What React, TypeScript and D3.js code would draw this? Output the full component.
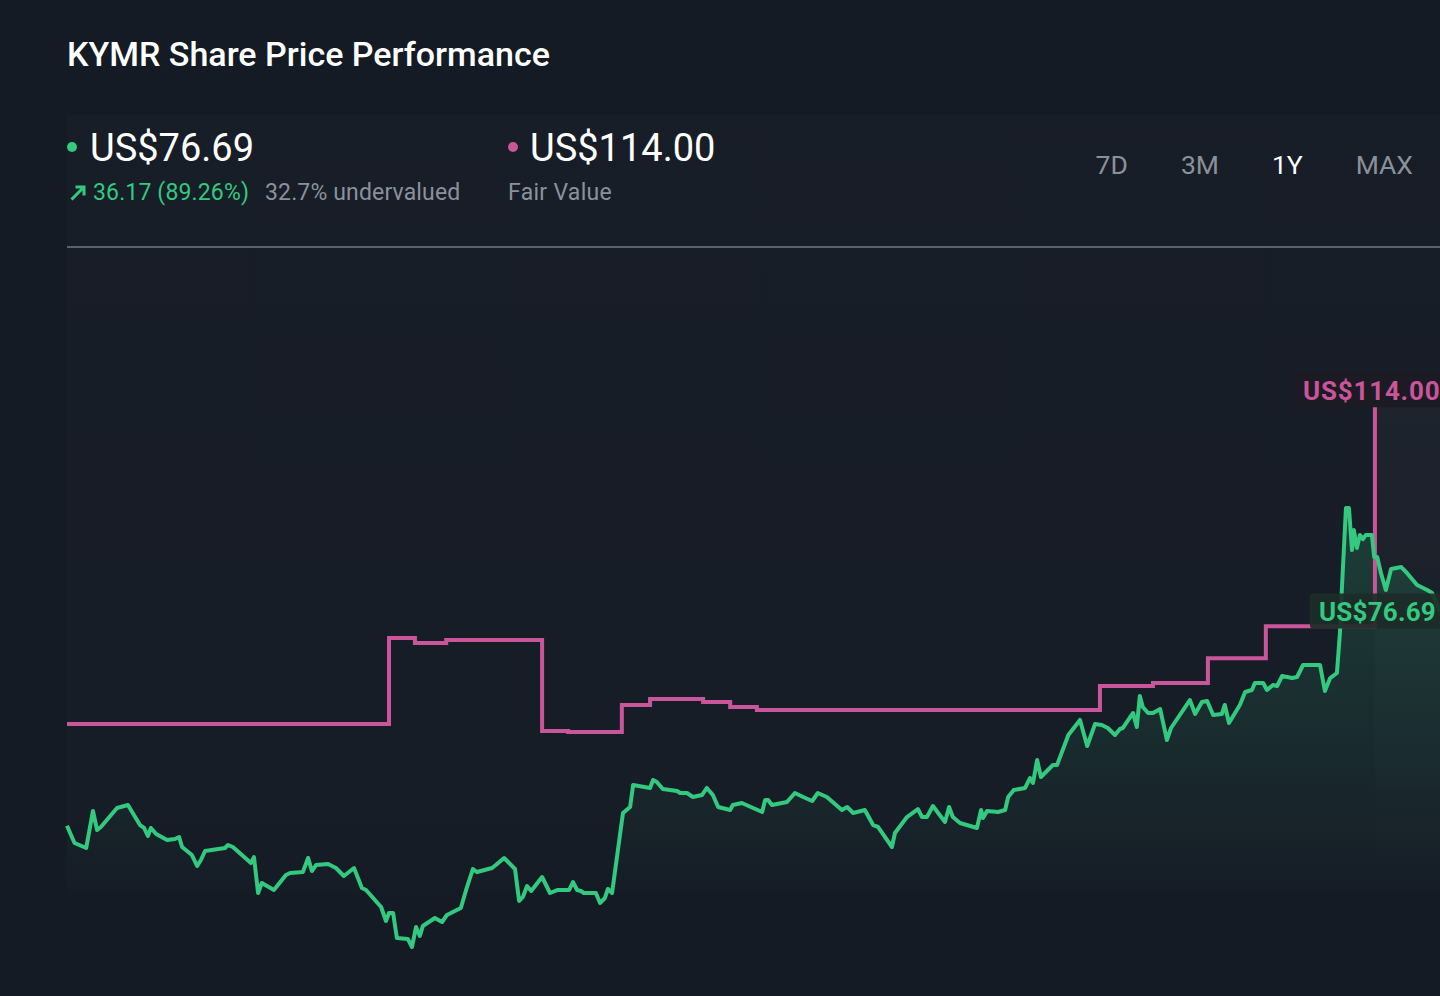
import { useRef, useEffect } from "react";
import * as d3 from "d3";

// days since the start of the 1Y window, and closing price (US$)
const priceDays = [
  0, 2, 5.1, 6.9, 8, 9, 13.3, 16.2, 19.4, 20.5, 21.5, 22.3, 23.7, 26.6, 28.7, 29.8, 30.6, 33.2, 34.6, 35.6,
  36.7, 42, 42.8, 44.1, 48.9, 49.7, 50.8, 51.8, 55, 58.2, 59.3, 62.7, 64.1, 65.1, 66.2, 69.4, 71.5, 73.6, 76.3, 78.4,
  79.5, 83.5, 84.8, 85.6, 86.7, 87.7, 90.6, 91.7, 92.8, 93.8, 94.6, 97.8, 99.7, 101, 104.7, 106.1, 107.9, 109, 113, 114,
  116.2, 119.1, 120.2, 121.2, 122.3, 123.4, 126.3, 128.4, 130.5, 133.5, 134.5, 135.6, 136.6, 137.4, 140.6, 141.7, 143, 143.8, 144.9, 147.8,
  149.7, 150.5, 155, 155.8, 156.8, 158.4, 162.2, 163, 164.8, 166.4, 168.8, 170.1, 171.7, 173.1, 176.3, 177, 179.4, 184.8, 185.6, 186.4,
  187.4, 191.4, 193.5, 195.7, 198.1, 199.6, 202, 206, 207.4, 209, 212.1, 214.3, 215.6, 219.3, 220.1, 223.3, 226.2, 227.3, 228.6, 230.2,
  233.4, 234.5, 235.5, 237.4, 241.9, 243, 243.5, 244.6, 247.5, 249.4, 250.2, 251.7, 254.7, 256, 256.8, 257.9, 258.9, 262.1, 263.2, 264.8,
  266.2, 269.3, 271.2, 273.3, 275.1, 276.7, 278.6, 279.9, 280.7, 283.4, 284.4, 285.2, 286, 287.4, 288.7, 290.6, 292.4, 293.5, 298.5, 299.9,
  301.7, 303.1, 304.7, 307, 307.8, 308.9, 311.8, 313.2, 315, 315.8, 318, 319, 320.6, 321.7, 323, 325.7, 327, 328.6, 333.1, 334.4,
  335.8, 337.6, 338.4, 338.9, 340, 340.8, 341.6, 342.1, 342.9, 343.7, 344.5, 345.3, 346.9, 347.5, 348.3, 349.3, 350.6, 352, 354.7, 356.2,
  358.9, 361.6, 362.9, 365,
];
const priceValues = [
  40.52, 37.62, 36.77, 43.02, 39.81, 40.32, 43.52, 44.03, 40.65, 40.15, 38.8, 40.15, 39.13, 38.12, 38.29, 38.63, 36.94, 35.59, 33.74, 34.75,
  36.27, 36.77, 37.28, 36.94, 34.24, 35.25, 29.18, 30.87, 29.69, 32.22, 32.56, 32.72, 35.09, 32.89, 33.9, 34.07, 33.4, 32.05, 33.4, 30.02,
  29.69, 26.82, 24.46, 25.81, 25.81, 21.59, 21.42, 20.07, 23.44, 21.93, 23.61, 24.96, 24.29, 25.47, 26.65, 29.69, 33.23, 32.72, 33.4, 33.9,
  35.09, 33.23, 27.83, 28.51, 30.36, 29.52, 31.88, 29.18, 29.69, 29.69, 31.04, 29.69, 29.52, 29.18, 29.18, 27.49, 28.34, 29.86, 29.18, 42.68,
  43.69, 47.4, 46.9, 48.25, 47.91, 46.73, 46.39, 46.05, 46.05, 45.38, 45.71, 46.9, 45.71, 43.69, 43.18, 44.03, 44.36, 42.85, 44.87, 44.87,
  44.03, 44.53, 46.05, 45.38, 44.7, 46.05, 45.38, 43.18, 43.69, 42.68, 43.18, 40.65, 40.32, 36.94, 39.3, 42.0, 43.35, 42.0, 42.0, 43.86,
  41.16, 43.69, 42.0, 40.99, 40.15, 43.18, 41.83, 43.02, 42.85, 43.18, 45.38, 46.56, 46.9, 48.58, 47.74, 51.62, 48.75, 50.78, 50.78, 53.47,
  55.84, 58.37, 53.98, 57.69, 57.52, 57.02, 55.84, 56.85, 57.02, 59.55, 57.19, 62.42, 60.56, 59.55, 59.55, 60.22, 54.99, 57.02, 61.74, 59.38,
  61.4, 61.57, 59.21, 59.38, 60.9, 57.86, 60.9, 63.09, 63.43, 64.61, 64.61, 63.43, 64.27, 64.1, 65.79, 65.45, 65.62, 67.65, 67.65, 63.26,
  65.45, 66.3, 73.05, 80.3, 94.13, 94.13, 87.05, 90.42, 87.39, 89.58, 88.9, 89.58, 89.58, 85.87, 85.87, 83.17, 80.3, 83.84, 84.18, 83.17,
  81.14, 80.3, 79.79, 76.69,
];

// fair value estimate, held until the next change
const fairDays = [0, 85.6, 92.5, 100.8, 126.3, 133.2, 147.5, 155, 169.1, 176.3, 183.4, 274.6, 288.7, 303.3, 318.7, 347.7, 365];
const fairValues = [57.69, 72.2, 71.36, 71.86, 56.5, 56.34, 60.9, 61.9, 61.4, 60.56, 60.06, 64.1, 64.6, 68.8, 74.2, 114, 114];

const ranges = ["7D", "3M", "1Y", "MAX"];
const activeRange = "1Y";

const lastPrice = 76.69;
const fairValue = 114.0;
const change = 36.17;
const changePct = 89.26;
const undervalued = 32.7;

const W = 1440;
const H = 996;
const BG = "#151b25";
const GREEN = "#33c97f";
const PINK = "#c9559a";
const GREY = "#8b919b";

export default function App() {
  const svgRef = useRef<SVGSVGElement>(null);

  useEffect(() => {
    document.body.style.margin = "0";
    document.body.style.background = BG;
    if (!svgRef.current) return;
    const svg = d3.select(svgRef.current);
    svg.selectAll("*").remove();

    const x = d3.scaleLinear().domain([0, 365]).range([67, 1440]);
    const y = d3.scaleLinear().domain([28, 138]).range([900, 248]);

    const defs = svg.append("defs");
    const areaGrad = defs
      .append("linearGradient")
      .attr("id", "areaGrad")
      .attr("gradientUnits", "userSpaceOnUse")
      .attr("x1", 0).attr("x2", 0)
      .attr("y1", y(95)).attr("y2", y(28));
    areaGrad.append("stop").attr("offset", 0).attr("stop-color", GREEN).attr("stop-opacity", 0.2);
    areaGrad.append("stop").attr("offset", 0.55).attr("stop-color", GREEN).attr("stop-opacity", 0.09);
    areaGrad.append("stop").attr("offset", 1).attr("stop-color", GREEN).attr("stop-opacity", 0);

    const panelGrad = defs
      .append("linearGradient")
      .attr("id", "panelGrad")
      .attr("x1", 0).attr("x2", 0).attr("y1", 0).attr("y2", 1);
    panelGrad.append("stop").attr("offset", 0).attr("stop-color", "#ffffff").attr("stop-opacity", 0.012);
    panelGrad.append("stop").attr("offset", 0.85).attr("stop-color", "#ffffff").attr("stop-opacity", 0.01);
    panelGrad.append("stop").attr("offset", 1).attr("stop-color", "#ffffff").attr("stop-opacity", 0);

    const futureGrad = defs
      .append("linearGradient")
      .attr("id", "futureGrad")
      .attr("x1", 0).attr("x2", 0).attr("y1", 0).attr("y2", 1);
    futureGrad.append("stop").attr("offset", 0).attr("stop-color", "#ffffff").attr("stop-opacity", 0.03);
    futureGrad.append("stop").attr("offset", 1).attr("stop-color", "#ffffff").attr("stop-opacity", 0);

    svg.append("rect").attr("width", W).attr("height", H).attr("fill", BG);
    svg.append("rect").attr("x", 67).attr("y", 115).attr("width", W - 67).attr("height", 800).attr("fill", "url(#panelGrad)");

    // region after the latest fair value change
    const lastFvDay = fairDays[fairDays.length - 2];
    svg.append("rect")
      .attr("x", x(lastFvDay)).attr("y", y(fairValue))
      .attr("width", W - x(lastFvDay)).attr("height", y(28) - y(fairValue))
      .attr("fill", "url(#futureGrad)");

    // header
    svg.append("text")
      .attr("x", 67).attr("y", 66)
      .attr("fill", "#ffffff").attr("font-size", 34).attr("font-weight", 500)
      .text("KYMR Share Price Performance");

    svg.append("circle").attr("cx", 72).attr("cy", 147).attr("r", 5).attr("fill", GREEN);
    svg.append("text")
      .attr("x", 90).attr("y", 161)
      .attr("fill", "#ffffff").attr("font-size", 38)
      .text(`US$${lastPrice.toFixed(2)}`);

    svg.append("path")
      .attr("d", "M71.5,199.5 L84,187 M75.5,187 L84,187 L84,195.5")
      .attr("stroke", GREEN).attr("stroke-width", 3).attr("fill", "none");
    svg.append("text")
      .attr("x", 93).attr("y", 200)
      .attr("fill", GREEN).attr("font-size", 23).attr("letter-spacing", 0.15)
      .text(`${change.toFixed(2)} (${changePct.toFixed(2)}%)`);
    svg.append("text")
      .attr("x", 265).attr("y", 200)
      .attr("fill", GREY).attr("font-size", 23).attr("letter-spacing", 0.15)
      .text(`${undervalued}% undervalued`);

    svg.append("circle").attr("cx", 513).attr("cy", 147).attr("r", 5).attr("fill", PINK);
    svg.append("text")
      .attr("x", 530).attr("y", 161)
      .attr("fill", "#ffffff").attr("font-size", 38)
      .text(`US$${fairValue.toFixed(2)}`);
    svg.append("text")
      .attr("x", 508).attr("y", 200)
      .attr("fill", GREY).attr("font-size", 23).attr("letter-spacing", 0.3)
      .text("Fair Value");

    // range selector, laid out right to left with a fixed gap
    const rangeG = svg.append("g");
    const rangeTexts = rangeG
      .selectAll("text")
      .data(ranges)
      .join("text")
      .attr("y", 174)
      .attr("font-size", 26.5)
      .attr("fill", (d) => (d === activeRange ? "#ffffff" : GREY))
      .text((d) => d);
    const nodes = rangeTexts.nodes() as SVGTextElement[];
    let right = 1413;
    for (let i = nodes.length - 1; i >= 0; i--) {
      const w = nodes[i].getComputedTextLength();
      d3.select(nodes[i]).attr("x", right - w);
      right = right - w - 53;
    }

    svg.append("line")
      .attr("x1", 67).attr("x2", W).attr("y1", 247).attr("y2", 247)
      .attr("stroke", "#59616d").attr("stroke-width", 2);

    const pts = priceDays.map((d, i) => ({ d, v: priceValues[i] }));
    const fv = fairDays.map((d, i) => ({ d, v: fairValues[i] }));

    const area = d3
      .area<{ d: number; v: number }>()
      .x((p) => x(p.d))
      .y0(y(28) + 5)
      .y1((p) => y(p.v));
    svg.append("path").datum(pts).attr("d", area).attr("fill", "url(#areaGrad)");

    const fvLine = d3
      .line<{ d: number; v: number }>()
      .x((p) => x(p.d))
      .y((p) => y(p.v))
      .curve(d3.curveStepAfter);
    svg.append("path").datum(fv).attr("d", fvLine)
      .attr("fill", "none").attr("stroke", PINK).attr("stroke-width", 4);

    const priceLine = d3
      .line<{ d: number; v: number }>()
      .x((p) => x(p.d))
      .y((p) => y(p.v));
    svg.append("path").datum(pts).attr("d", priceLine)
      .attr("fill", "none").attr("stroke", GREEN).attr("stroke-width", 4)
      .attr("stroke-linejoin", "round");

    // value tags at the right edge
    const tag = (value: number, left: number, fill: string, color: string, spacing: number) => {
      const cy = y(value);
      svg.append("rect")
        .attr("x", left).attr("y", cy - 18).attr("width", W - left + 10).attr("height", 35)
        .attr("rx", 3).attr("fill", fill);
      svg.append("text")
        .attr("x", left + 9).attr("y", cy + 10)
        .attr("fill", color).attr("font-size", 26).attr("font-weight", 700)
        .attr("letter-spacing", spacing)
        .text(`US$${value.toFixed(2)}`);
    };
    tag(fairValue, 1294, "#1c1a23", PINK, 0.8);
    tag(lastPrice, 1310, "rgba(28,44,40,0.92)", GREEN, 0.2);
  }, []);

  return (
    <div style={{ position: "absolute", left: 0, top: 0, width: W, height: H }}>
      <svg ref={svgRef} width={W} height={H} style={{ display: "block", fontFamily: "Roboto, 'Noto Sans', sans-serif" }} />
    </div>
  );
}
